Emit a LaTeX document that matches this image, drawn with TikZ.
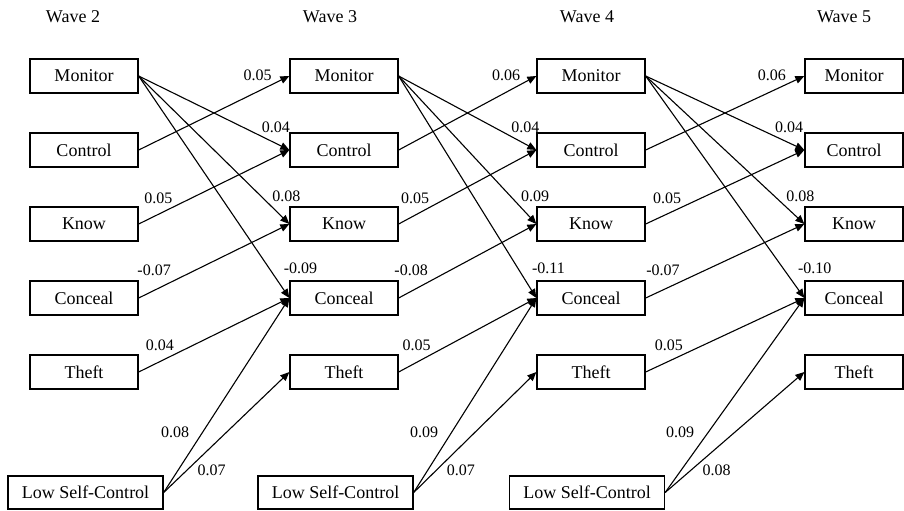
\documentclass[tikz,border=0pt]{standalone}
\usepackage{fontspec}
\setmainfont{Liberation Serif}
\usetikzlibrary{arrows.meta}

\begin{document}
\begin{tikzpicture}[
  x=0.5pt, y=-0.5pt,
  font=\fontsize{9}{11}\selectfont,
  var/.style={draw, line width=0.65pt, minimum width=54pt, minimum height=17pt, inner sep=0pt},
  lsc/.style={var, minimum width=77.5pt, minimum height=16.5pt},
  coef/.style={font=\fontsize{8}{10}\selectfont, inner sep=1pt},
  arr/.style={-{Triangle[length=4.5pt, width=3.8pt]}, line width=0.55pt}
]
\useasboundingbox (0,0) rectangle (904,510);

% waves 2-4
\foreach \w/\x/\t/\l in {2/84/73/85.5, 3/344/330/335.5, 4/591/587/587} {
  \node (wave\w) at (\t,17) {Wave \w};
  \node[var] (mon\w) at (\x,76) {Monitor};
  \node[var] (ctl\w) at (\x,150) {Control};
  \node[var] (knw\w) at (\x,224) {Know};
  \node[var] (cnc\w) at (\x,298) {Conceal};
  \node[var] (thf\w) at (\x,372) {Theft};
  \node[lsc] (lsc\w) at (\l,492.5) {Low Self-Control};
}
% wave 5
\node (wave5) at (844,17) {Wave 5};
\node[var, minimum width=49pt] (mon5) at (854,76) {Monitor};
\node[var, minimum width=49pt] (ctl5) at (854,150) {Control};
\node[var, minimum width=49pt] (knw5) at (854,224) {Know};
\node[var, minimum width=49pt] (cnc5) at (854,298) {Conceal};
\node[var, minimum width=49pt] (thf5) at (854,372) {Theft};

% cross-lagged paths
\foreach \a/\b/\mc/\mk/\mn/\cm/\kc/\ck/\tc/\lc/\lt in {
    2/3/0.04/0.08/-0.09/0.05/0.05/-0.07/0.04/0.08/0.07,
    3/4/0.04/0.09/-0.11/0.06/0.05/-0.08/0.05/0.09/0.07,
    4/5/0.04/0.08/-0.10/0.06/0.05/-0.07/0.05/0.09/0.08} {
  \draw[arr] (mon\a.east) -- node[coef, pos=.8, anchor=south west] {\mc} (ctl\b.west);
  \draw[arr] (mon\a.east) -- node[coef, pos=.87, anchor=south west] {\mk} (knw\b.west);
  \draw[arr] (mon\a.east) -- node[coef, pos=.9, anchor=south west, xshift=3.5pt] {\mn} (cnc\b.west);
  \draw[arr] (ctl\a.east) -- node[coef, pos=.9, anchor=south east] {\cm} (mon\b.west);
  \draw[arr] (knw\a.east) -- node[coef, pos=.24, anchor=south east] {\kc} (ctl\b.west);
  \draw[arr] (cnc\a.east) -- node[coef, pos=.23, anchor=south east, yshift=1.5pt] {\ck} (knw\b.west);
  \draw[arr] (thf\a.east) -- node[coef, pos=.25, anchor=south east] {\tc} (cnc\b.west);
  \draw[arr] (lsc\a.east) -- node[coef, pos=.27, anchor=south east, xshift=-3pt] {\lc} (cnc\b.west);
  \draw[arr] (lsc\a.east) -- node[coef, pos=.25, anchor=north west] {\lt} (thf\b.west);
}
\end{tikzpicture}
\end{document}
